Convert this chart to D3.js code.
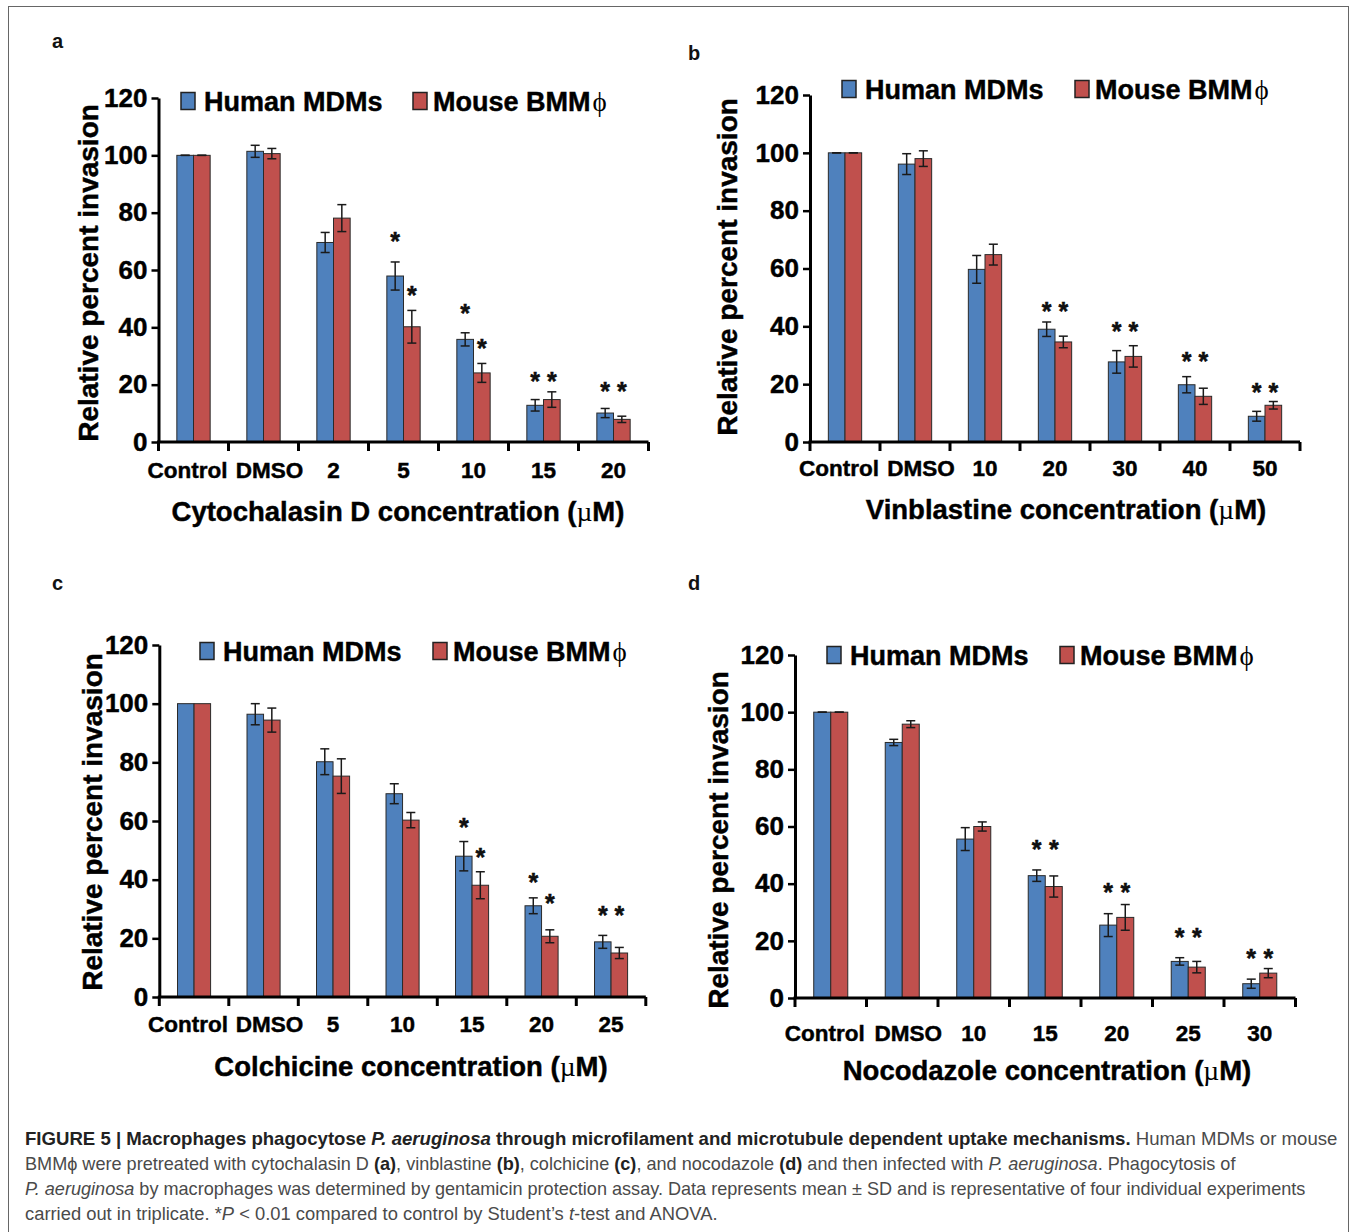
<!DOCTYPE html>
<html><head><meta charset="utf-8">
<script src="https://cdn.jsdelivr.net/npm/d3@7/dist/d3.min.js"></script>
<style>body{margin:0;background:#fff}svg{display:block}</style>
</head><body>
<div id="chart"></div>
<script>
// ---------- data ----------
const seriesNames = ["Human MDMs", "Mouse BMM"];
const yTicks = [0, 20, 40, 60, 80, 100, 120];

const catsA = ["Control", "DMSO", "2", "5", "10", "15", "20"];
const humanA = [100, 101.4, 69.6, 57.9, 35.8, 12.8, 10.1];
const humanSdA = [0, 2.1, 3.5, 4.9, 2.3, 2.0, 1.6];
const mouseA = [100, 100.6, 78.1, 40.2, 24.1, 14.8, 7.9];
const mouseSdA = [0, 1.8, 4.7, 5.7, 3.3, 2.7, 1.1];
const starHumanA = [null, null, null, 71.7, 46.6, 23, 19.5];
const starMouseA = [null, null, null, 53, 34.4, 23, 19.5];

const catsB = ["Control", "DMSO", "10", "20", "30", "40", "50"];
const humanB = [100, 96.1, 59.7, 39, 27.7, 19.8, 8.9];
const humanSdB = [0, 3.6, 4.8, 2.5, 3.9, 2.8, 1.7];
const mouseB = [100, 98, 64.8, 34.6, 29.6, 15.8, 12.7];
const mouseSdB = [0, 2.7, 3.6, 2, 3.7, 2.8, 1.3];
const starHumanB = [null, null, null, 46.7, 39.8, 29.6, 19];
const starMouseB = [null, null, null, 46.7, 39.8, 29.6, 19];

const catsC = ["Control", "DMSO", "5", "10", "15", "20", "25"];
const humanC = [100, 96.4, 80.2, 69.3, 48, 31.1, 18.8];
const humanSdC = [null, 3.6, 4.4, 3.4, 5, 2.7, 2.2];
const mouseC = [100, 94.4, 75.3, 60.3, 38.1, 20.7, 15];
const mouseSdC = [null, 4.1, 5.9, 2.6, 4.6, 2.2, 1.9];
const starHumanC = [null, null, null, null, 59.5, 40.6, 29.6];
const starMouseC = [null, null, null, null, 49.3, 33.6, 29.6];

const catsD = ["Control", "DMSO", "10", "15", "20", "25", "30"];
const humanD = [100, 89.4, 55.6, 42.8, 25.5, 12.8, 5];
const humanSdD = [0, 1.1, 4, 2, 4, 1.3, 1.6];
const mouseD = [100, 95.8, 60, 39, 28.2, 10.8, 8.7];
const mouseSdD = [0, 1.2, 1.6, 3.7, 4.5, 2, 1.6];
const starHumanD = [null, null, null, 53.6, 38.5, 22.8, 15.5];
const starMouseD = [null, null, null, 53.6, 38.5, 22.8, 15.5];

// ---------- layout ----------
const W = 1357, H = 1232;
const FONT = "'Liberation Sans', Arial, Helvetica, sans-serif";
const BLUE = "#4F81BD", RED = "#C0504D";
const HEAVY = 0.45; // extra stroke to mimic heavier bold face
const labelShift = [-6, 6, 0, 0, 0, 0, 0];

const panels = [
  {letter: "a", lx: 52, ly: 48, x0: 158.5, band: 70, yB: 442, yT: 98, catOff: 36,
   xTitle: "Cytochalasin D concentration (", xtx: 398, xty: 521, ytx: 88, yty: 273,
   legY: 101, leg1: 181, leg2: 413,
   cats: catsA, h: humanA, hs: humanSdA, m: mouseA, ms: mouseSdA, sh: starHumanA, sm: starMouseA},
  {letter: "b", lx: 688, ly: 60, x0: 810, band: 70, yB: 442, yT: 95, catOff: 34,
   xTitle: "Vinblastine concentration (", xtx: 1066, xty: 519, ytx: 727, yty: 267,
   legY: 89, leg1: 842, leg2: 1075,
   cats: catsB, h: humanB, hs: humanSdB, m: mouseB, ms: mouseSdB, sh: starHumanB, sm: starMouseB},
  {letter: "c", lx: 52, ly: 590, x0: 159.3, band: 69.5, yB: 997, yT: 645, catOff: 35,
   xTitle: "Colchicine concentration (", xtx: 411, xty: 1076, ytx: 92, yty: 822,
   legY: 651, leg1: 200, leg2: 433,
   cats: catsC, h: humanC, hs: humanSdC, m: mouseC, ms: mouseSdC, sh: starHumanC, sm: starMouseC},
  {letter: "d", lx: 688, ly: 590, x0: 795, band: 71.5, yB: 998, yT: 655, catOff: 43,
   xTitle: "Nocodazole concentration (", xtx: 1047, xty: 1080, ytx: 718, yty: 840,
   legY: 655, leg1: 827, leg2: 1060,
   cats: catsD, h: humanD, hs: humanSdD, m: mouseD, ms: mouseSdD, sh: starHumanD, sm: starMouseD}
];

const svg = d3.select("#chart").append("svg")
  .attr("width", W).attr("height", H)
  .style("font-family", FONT);

svg.append("rect").attr("x", 8.5).attr("y", 6.5).attr("width", 1340).attr("height", 1240)
  .attr("fill", "none").attr("stroke", "#666").attr("stroke-width", 1);

function heavy(sel) { return sel.attr("stroke", "#000").attr("stroke-width", HEAVY); }

function drawPanel(p) {
  const g = svg.append("g");
  const x = d3.scaleBand().domain(p.cats).range([p.x0, p.x0 + p.band * p.cats.length]).padding(0);
  const y = d3.scaleLinear().domain([0, 120]).range([p.yB, p.yT]);
  const barW = x.bandwidth() * 0.238;
  const sub = d3.scaleBand().domain(["h", "m"]).range([0, 2 * barW]);
  const rows = p.cats.map((c, i) => ({c, i, h: p.h[i], hs: p.hs[i], m: p.m[i], ms: p.ms[i], sh: p.sh[i], sm: p.sm[i]}));
  const bx = (c, k) => x(c) + x.bandwidth() / 2 - barW + sub(k);

  // panel letter
  g.append("text").attr("x", p.lx).attr("y", p.ly).text(p.letter)
    .attr("font-size", 20).attr("font-weight", "bold").attr("fill", "#111");

  // bars
  [["h", BLUE], ["m", RED]].forEach(([k, col]) => {
    g.selectAll(null).data(rows).enter().append("rect")
      .attr("x", d => bx(d.c, k)).attr("width", sub.bandwidth())
      .attr("y", d => y(d[k])).attr("height", d => y(0) - y(d[k]))
      .attr("fill", col).attr("stroke", "#2a2a2a").attr("stroke-width", 1);
  });

  // error bars
  ["h", "m"].forEach(k => {
    const sk = k + "s";
    const eg = g.selectAll(null).data(rows.filter(d => d[sk] != null)).enter().append("g")
      .attr("stroke", "#1a1a1a").attr("stroke-width", 1.5);
    const cx = d => bx(d.c, k) + sub.bandwidth() / 2;
    eg.append("line").attr("x1", cx).attr("x2", cx)
      .attr("y1", d => y(d[k] + d[sk])).attr("y2", d => y(d[k] - d[sk]));
    [1, -1].forEach(s => {
      eg.append("line").attr("x1", d => cx(d) - 4.5).attr("x2", d => cx(d) + 4.5)
        .attr("y1", d => y(d[k] + s * d[sk])).attr("y2", d => y(d[k] + s * d[sk]));
    });
  });

  // significance asterisks
  [["h", "sh"], ["m", "sm"]].forEach(([k, sk]) => {
    heavy(g.selectAll(null).data(rows.filter(d => d[sk] != null)).enter().append("text")
      .attr("x", d => bx(d.c, k) + sub.bandwidth() / 2)
      .attr("y", d => y(d[sk]) + 13.5)
      .attr("text-anchor", "middle").attr("font-size", 25).attr("font-weight", "bold")
      .attr("fill", "#111").text("*"));
  });

  // y axis
  const yAxis = d3.axisLeft(y).tickValues(yTicks).tickSize(7).tickSizeOuter(0).tickPadding(4);
  const ya = g.append("g").attr("transform", `translate(${p.x0},0)`).call(yAxis);
  ya.attr("font-family", null).attr("font-size", null);
  ya.select(".domain").attr("stroke", "#000").attr("stroke-width", 3);
  ya.selectAll(".tick line").attr("stroke", "#000").attr("stroke-width", 2.5);
  heavy(ya.selectAll(".tick text").attr("font-size", 26).attr("font-weight", "bold")
    .attr("fill", "#000").attr("font-family", FONT));

  // x axis line + boundary ticks
  const [r0, r1] = x.range();
  g.append("line").attr("x1", r0 - 1.5).attr("x2", r1).attr("y1", y(0)).attr("y2", y(0))
    .attr("stroke", "#000").attr("stroke-width", 3);
  const bounds = p.cats.map(c => x(c)).concat([r1]);
  g.selectAll(null).data(bounds).enter().append("line")
    .attr("x1", d => d).attr("x2", d => d).attr("y1", y(0)).attr("y2", y(0) + 9)
    .attr("stroke", "#000").attr("stroke-width", 3);

  // category labels
  heavy(g.selectAll(null).data(p.cats).enter().append("text")
    .attr("x", (c, i) => x(c) + x.bandwidth() / 2 + labelShift[i]).attr("y", y(0) + p.catOff)
    .attr("text-anchor", "middle").attr("font-size", 22.5).attr("font-weight", "bold")
    .attr("fill", "#000").text(c => c));

  // x title
  const xt = g.append("text").attr("x", p.xtx).attr("y", p.xty).attr("text-anchor", "middle")
    .attr("font-size", 27.5).attr("font-weight", "bold").attr("fill", "#000");
  heavy(xt.append("tspan").text(p.xTitle));
  xt.append("tspan").attr("font-weight", "normal").attr("font-family", "'Liberation Serif', serif").text("\u00B5");
  heavy(xt.append("tspan").text("M)"));

  // y title
  heavy(g.append("text").attr("transform", `translate(${p.ytx},${p.yty}) rotate(-90)`)
    .attr("text-anchor", "middle").attr("dy", "0.35em")
    .attr("font-size", 28).attr("font-weight", "bold").attr("fill", "#000")
    .text("Relative percent invasion"));

  // legend
  [[p.leg1, BLUE, seriesNames[0], false], [p.leg2, RED, seriesNames[1], true]].forEach(([lx, col, name, phi]) => {
    g.append("rect").attr("x", lx).attr("y", p.legY - 8.5).attr("width", 14).attr("height", 17)
      .attr("fill", col).attr("stroke", "#222").attr("stroke-width", 1.5);
    const t = g.append("text").attr("x", lx + (phi ? 20 : 23)).attr("y", p.legY + 9.5)
      .attr("font-size", 27).attr("font-weight", "bold").attr("fill", "#000");
    heavy(t.append("tspan").text(name));
    if (phi) t.append("tspan").attr("dx", 2).attr("font-weight", "normal")
      .attr("font-family", "'Liberation Serif', 'DejaVu Serif', serif").text("\u03D5");
  });
}
panels.forEach(drawPanel);

// ---------- caption ----------
const CAP = "'Liberation Sans', Arial, sans-serif";
const captionLines = [
  [["FIGURE 5 | Macrophages phagocytose ", "b"], ["P. aeruginosa", "bi"], [" through microfilament and microtubule dependent uptake mechanisms.", "b"], [" Human MDMs or mouse", ""]],
  [["BMM\u03D5 were pretreated with cytochalasin D ", ""], ["(a)", "b"], [", vinblastine ", ""], ["(b)", "b"], [", colchicine ", ""], ["(c)", "b"], [", and nocodazole ", ""], ["(d)", "b"], [" and then infected with ", ""], ["P. aeruginosa", "i"], [". Phagocytosis of", ""]],
  [["P. aeruginosa", "i"], [" by macrophages was determined by gentamicin protection assay. Data represents mean \u00B1 SD and is representative of four individual experiments", ""]],
  [["carried out in triplicate. *", ""], ["P", "i"], [" < 0.01 compared to control by Student\u2019s ", ""], ["t", "i"], ["-test and ANOVA.", ""]]
];
const captionWidths = [1313, 1211, 1281, 693];
const capG = svg.append("g").style("font-family", CAP);
captionLines.forEach((line, i) => {
  const t = capG.append("text").attr("x", 0).attr("y", 0).attr("font-size", 19).attr("fill", "#4a4a4a");
  line.forEach(([s, st]) => {
    const ts = t.append("tspan").text(s);
    if (st.includes("b")) ts.attr("font-weight", "bold").attr("fill", "#222");
    if (st.includes("i")) ts.attr("font-style", "italic");
  });
  const w = t.node().getComputedTextLength();
  t.attr("transform", `translate(25,${1145 + i * 25}) scale(${captionWidths[i] / w},1)`);
});
</script>
</body></html>
